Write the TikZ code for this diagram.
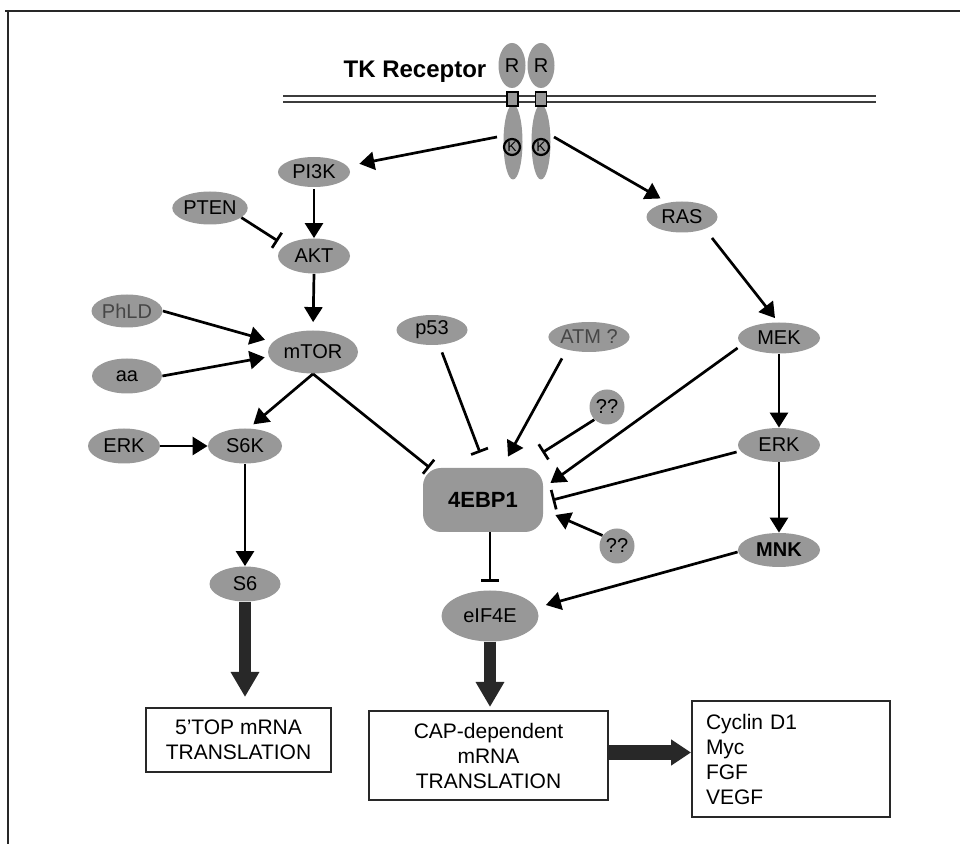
\documentclass[tikz,border=0pt]{standalone}
\usepackage{fontspec}
\setmainfont{Liberation Sans}
\usetikzlibrary{arrows.meta,calc,shapes.geometric}
\definecolor{nodegray}{RGB}{152,152,152}
\definecolor{darkline}{RGB}{40,40,40}
\definecolor{memline}{RGB}{60,60,60}
\definecolor{softtext}{RGB}{70,70,70}
\begin{document}
\begin{tikzpicture}[x=0.5pt,y=-0.5pt,
  font=\fontsize{10}{12.5}\selectfont,
  mol/.style={ellipse, fill=nodegray, inner sep=0pt, text=black},
  qq/.style={circle, fill=nodegray, inner sep=0pt, minimum size=17.5pt},
  kin/.style={circle, draw=black, line width=1.1pt, fill=nodegray, minimum size=8pt, inner sep=0pt, font=\fontsize{7}{7}\selectfont},
  act/.style={line width=1.35pt, -{Triangle[length=7.5pt,width=9pt]}},
  inh/.style={line width=1.35pt, -{Bar[width=9pt]}},
  big/.style={line width=6pt, draw=darkline, -{Triangle[length=12.5pt,width=13.5pt]}},
  box/.style={draw=darkline, line width=1pt, fill=white, inner sep=0pt, align=center, font=\fontsize{10.5}{12.5}\selectfont}]
\useasboundingbox (0,0) rectangle (960,844);
% frame
\draw[line width=1pt, darkline] (5,11) -- (960,11);
\draw[line width=1pt, darkline] (8,11) -- (8,844);
% membrane
\draw[line width=1.3pt, memline] (283,96) -- (876,96);
\draw[line width=1.1pt, memline] (283,102) -- (876,102);
\node[font=\fontsize{12}{14}\bfseries] (tk) at (415,72) {TK Receptor};
% receptor
\node[mol, minimum width=13.5pt, minimum height=22.5pt] (rL) at (512,65.5) {R};
\node[mol, minimum width=13.5pt, minimum height=22.5pt] (rR) at (541,65.5) {R};
\node[mol, minimum width=9.5pt, minimum height=37.5pt] (tkL) at (513,142) {};
\node[mol, minimum width=9.5pt, minimum height=37.5pt] (tkR) at (541,142) {};
\node[draw=black, line width=0.9pt, fill=nodegray, minimum width=5.5pt, minimum height=7pt, inner sep=0pt] (tmL) at (512.5,99) {};
\node[draw=black, line width=0.9pt, fill=nodegray, minimum width=5.5pt, minimum height=7pt, inner sep=0pt] (tmR) at (541,99) {};
\node[kin] (kL) at (512,147) {K};
\node[kin] (kR) at (541,147) {K};
\coordinate (sL) at (497,137);
\coordinate (sR) at (554,137);
% left branch
\node[mol, minimum width=36pt, minimum height=15pt] (pi3k) at (314,172) {PI3K};
\node[mol, minimum width=37pt, minimum height=16.5pt] (pten) at (210,208) {PTEN};
\node[mol, minimum width=36pt, minimum height=17.5pt] (akt) at (314,256) {AKT};
\node[mol, minimum width=35.5pt, minimum height=16.5pt, text=softtext] (phld) at (127,311) {PhLD};
\node[mol, minimum width=45pt, minimum height=21.5pt] (mtor) at (313,352) {mTOR};
\node[mol, minimum width=35pt, minimum height=17.5pt] (aa) at (127,376) {aa};
\node[mol, minimum width=36pt, minimum height=17.5pt] (erkL) at (124,446) {ERK};
\node[mol, minimum width=37pt, minimum height=17.5pt] (s6k) at (245,446) {S6K};
\node[mol, minimum width=35.5pt, minimum height=17.5pt] (s6) at (245,584) {S6};
% middle
\node[mol, minimum width=35.5pt, minimum height=15pt] (p53) at (432,330) {p53};
\node[mol, minimum width=36pt, minimum height=15pt, text=softtext] (atm) at (589,337) {ATM ?};
\node[qq] (q1) at (607,407) {??};
\node[qq] (q2) at (617,546) {??};
\node[fill=nodegray, rounded corners=9pt, minimum width=60pt, minimum height=32pt, inner sep=0pt, font=\fontsize{11}{13}\bfseries] (ebp) at (483,500) {4EBP1};
\node[mol, minimum width=48.5pt, minimum height=25.5pt] (eif) at (490,616) {eIF4E};
% right branch
\node[mol, minimum width=35.5pt, minimum height=15.5pt] (ras) at (682,217) {RAS};
\node[mol, minimum width=41pt, minimum height=15.5pt] (mek) at (779,338) {MEK};
\node[mol, minimum width=41pt, minimum height=17pt] (erkR) at (779,445) {ERK};
\node[mol, minimum width=41pt, minimum height=17pt, font=\fontsize{10}{12.5}\bfseries] (mnk) at (779,550) {MNK};
% boxes
\node[box, minimum width=92.5pt, minimum height=32pt] (top) at (238.5,740) {5’TOP mRNA\\TRANSLATION};
\node[box, minimum width=119.5pt, minimum height=44.5pt] (cap) at (488.5,755.5) {CAP-dependent\\mRNA\\TRANSLATION};
\node[box, align=left, text width=85pt, inner xsep=7pt, minimum height=58pt] (cyc) at (791,759) {Cyclin D1\\Myc\\FGF\\VEGF};
% connectors
\draw[act, shorten >=6pt] (sL) -- (pi3k.10);
\draw[act, shorten >=4pt] (sR) -- (ras.135);
\draw[act, shorten <=1pt] (pi3k.south) -- (akt.north);
\draw[act, shorten >=4pt] (akt.south) -- (mtor.north);
\draw[inh, shorten >=4pt] (pten.-17) -- (akt.160);
\draw[act, shorten >=4pt] (phld.east) -- (mtor.166);
\draw[act, shorten >=2pt] (aa.east) -- (mtor.186);
\draw[act] (erkL.east) -- (s6k.west);
\draw[act, shorten >=3pt] (mtor.south) -- (s6k.78);
\draw[inh] (mtor.south) -- ($(ebp.north west)+(7,0)$);
\draw[act] (s6k.south) -- (s6.north);
\draw[inh] ($(p53.south)+(10,7)$) -- ($(ebp.north)+(-3,-15)$);
\draw[act] ($(atm.south)+(-27,6)$) -- ($(ebp.north)+(25,-11)$);
\draw[inh] (q1.225) -- ($(ebp.north east)+(-1,-15)$);
\draw[act] ($(mek.west)+(0,10)$) -- ($(ebp.east)+(7,-17)$);
\draw[line width=1.35pt, -{Bar[width=10pt]}] ($(erkR.west)+(-1,7)$) -- ($(ebp.east)+(9,0)$);
\draw[act] (q2.144) -- ($(ebp.east)+(12,15)$);
\draw[act] (mek.south) -- (erkR.north);
\draw[act] (erkR.south) -- (mnk.north);
\draw[act] ($(ras.center)+(30,21)$) -- ($(mek.north)+(-4,-4)$);
\draw[act] ($(mnk.west)+(0,2)$) -- ($(eif.east)+(7,-11)$);
\draw[inh] ($(ebp.south)+(7,0)$) -- ($(eif.north)+(0,-8)$);
% thick arrows
\draw[big] (s6.south) -- ($(s6.south |- top.north)+(0,-10)$);
\draw[big] (eif.south) -- ($(eif.south |- cap.north)+(0,-3)$);
\draw[big, line width=7.5pt, -{Triangle[length=10pt,width=12.5pt]}] ($(cap.east)+(0,-3)$) -- ($(cap.east -| cyc.west)+(0,-3)$);
\end{tikzpicture}
\end{document}
